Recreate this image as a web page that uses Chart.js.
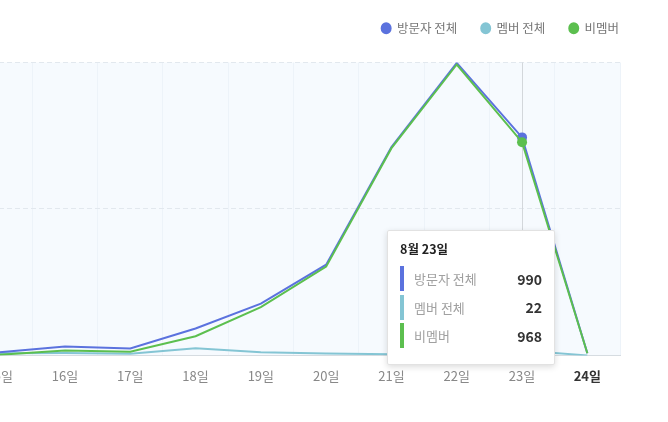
<!DOCTYPE html>
<html>
<head>
<meta charset="utf-8">
<script src="https://cdn.jsdelivr.net/npm/chart.js@4.4.1/dist/chart.umd.min.js"></script>
<style>
    html, body { margin: 0; padding: 0; background: #fff; overflow: hidden; }
    body { width: 668px; height: 422px; position: relative; font-family: 'Noto Sans CJK KR', 'Noto Sans', sans-serif; }
    #wrap { position: absolute; left: -40px; top: 0; width: 662px; height: 422px; }
    #tip {
        position: absolute; background: #fff; border: 1px solid #e2e2e2; border-radius: 2px;
        box-shadow: 0 2px 6px rgba(0, 0, 0, 0.14); width: 142px; padding: 9px 12px 16px 12px;
        font-family: 'Noto Sans CJK KR', sans-serif; pointer-events: none; display: none;
    }
    #tip .title { font-size: 12.5px; font-weight: bold; color: #222; height: 22px; line-height: 18px; margin-bottom: 4px; }
    #tip .row { display: flex; align-items: center; height: 25px; margin-bottom: 3.5px; }
    #tip .row:last-child { margin-bottom: 0; }
    #tip .bar { width: 4px; height: 25px; margin-right: 10px; }
    #tip .name { flex: 1; font-size: 13px; color: #a0a0a0; }
    #tip .val { font-size: 14px; font-weight: bold; color: #333; }
</style>
</head>
<body>
<div id="wrap">
    <canvas id="visitChart"></canvas>
    <div id="tip"></div>
</div>
<script>
const month = '8월';
const days = ['15일', '16일', '17일', '18일', '19일', '20일', '21일', '22일', '23일', '24일'];
const visitorsAll = [14, 40, 31, 122, 235, 412, 946, 1328, 990, 10];
const membersAll = [10, 11, 8, 32, 14, 9, 5, 7, 22, 0];
const nonMembers = [3, 22, 17, 87, 219, 403, 941, 1321, 968, 10];
const seriesNames = ['방문자 전체', '멤버 전체', '비멤버'];
const seriesColors = ['#5b72de', '#84c5d4', '#5cbf4f'];
const yMax = 1330;
const yStep = 665;
const activeIndex = 8;
const todayIndex = days.length - 1;

// light blue plot area + hover line
const plotArea = {
    id: 'plotArea',
    beforeDraw(chart) {
        const { ctx, chartArea: a } = chart;
        ctx.save();
        ctx.fillStyle = '#f6fafe';
        ctx.fillRect(a.left, a.top, a.right - a.left, a.bottom - a.top);
        ctx.restore();
    },
    beforeDatasetsDraw(chart) {
        const active = chart.getActiveElements();
        if (!active.length) return;
        const { ctx, chartArea: a } = chart;
        const x = active[0].element.x;
        ctx.save();
        ctx.strokeStyle = '#d3d7db';
        ctx.lineWidth = 1;
        ctx.beginPath();
        ctx.moveTo(Math.round(x) + 0.5, a.top);
        ctx.lineTo(Math.round(x) + 0.5, a.bottom);
        ctx.stroke();
        ctx.restore();
    }
};

// extra space under the legend, legend nudged right and up
const legendGap = {
    id: 'legendGap',
    beforeInit(chart) {
        const fit = chart.legend.fit;
        chart.legend.fit = function () {
            fit.bind(chart.legend)();
            this.height += 14;
        };
    },
    afterLayout(chart) {
        chart.legend.left += 23;
        chart.legend.right += 23;
        chart.legend.top -= 4;
        chart.legend.bottom -= 4;
    }
};

function externalTip(context) {
    const { chart, tooltip } = context;
    const el = document.getElementById('tip');
    if (tooltip.opacity === 0) { el.style.display = 'none'; return; }
    const idx = tooltip.dataPoints[0].dataIndex;
    let html = '<div class="title">' + month + ' ' + days[idx] + '</div>';
    const values = [visitorsAll, membersAll, nonMembers];
    values.forEach(function (arr, i) {
        html += '<div class="row"><div class="bar" style="background:' + seriesColors[i] + '"></div>' +
            '<div class="name">' + seriesNames[i] + '</div><div class="val">' + arr[idx].toLocaleString() + '</div></div>';
    });
    el.innerHTML = html;
    el.style.display = 'block';
    el.style.left = (tooltip.caretX - 135) + 'px';
    el.style.top = (chart.chartArea.bottom - 125) + 'px';
}

const ctx = document.getElementById('visitChart').getContext('2d');
const visitChart = new Chart(ctx, {
    type: 'line',
    data: {
        labels: days,
        datasets: [visitorsAll, membersAll, nonMembers].map(function (arr, i) {
            return {
                label: seriesNames[i],
                data: arr,
                borderColor: seriesColors[i],
                backgroundColor: seriesColors[i],
                borderWidth: 2,
                tension: 0,
                pointRadius: 0,
                pointHoverRadius: 5,
                pointHoverBorderWidth: 0,
                pointHoverBackgroundColor: seriesColors[i],
                order: [2, 3, 1][i]
            };
        })
    },
    options: {
        responsive: true,
        maintainAspectRatio: false,
        animation: false,
        interaction: { mode: 'index', intersect: false },
        layout: { padding: { left: 7, right: 2, top: 2, bottom: 25 } },
        plugins: {
            legend: {
                position: 'top',
                align: 'end',
                labels: {
                    usePointStyle: true,
                    pointStyle: 'circle',
                    pointStyleWidth: 9,
                    boxWidth: 9,
                    boxHeight: 7,
                    padding: 24,
                    color: '#777',
                    font: { family: "'Noto Sans CJK KR'", size: 12.5 },
                    sort: function (a, b) { return a.datasetIndex - b.datasetIndex; }
                }
            },
            tooltip: {
                enabled: false,
                external: externalTip
            }
        },
        scales: {
            x: {
                offset: true,
                grid: { offset: true, color: '#edf3f9', drawTicks: false },
                border: { display: true, color: '#d6dce1' },
                ticks: {
                    padding: 13,
                    color: function (c) { return c.index === todayIndex ? '#333' : '#888'; },
                    font: function (c) {
                        return { family: "'Noto Sans CJK KR'", size: 13, weight: c.index === todayIndex ? 'bold' : 'normal' };
                    }
                }
            },
            y: {
                min: 0,
                max: yMax,
                ticks: { stepSize: yStep, display: false },
                border: { display: false, dash: [5, 3] },
                grid: {
                    color: function (c) { return c.tick.value === 0 ? 'rgba(0,0,0,0)' : '#e2e8ee'; },
                    drawTicks: false
                }
            }
        }
    },
    plugins: [plotArea, legendGap]
});

const act = [0, 1, 2].map(function (i) { return { datasetIndex: i, index: activeIndex }; });
visitChart.setActiveElements(act);
visitChart.tooltip.setActiveElements(act, { x: 0, y: 0 });
visitChart.update('none');
</script>
</body>
</html>
